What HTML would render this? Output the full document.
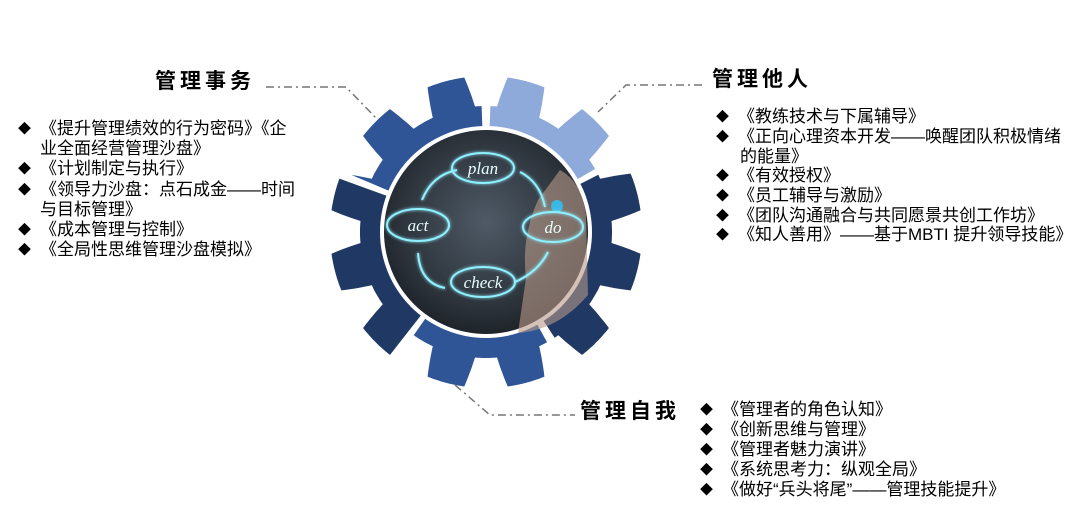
<!DOCTYPE html>
<html><head><meta charset="utf-8">
<style>
body{margin:0;width:1082px;height:511px;background:#fff;position:relative;overflow:hidden;font-family:"Liberation Sans","Noto Sans CJK SC",sans-serif;color:#000}
.t{position:absolute;font-size:21px;font-weight:bold;letter-spacing:4px;line-height:24px;white-space:nowrap}
.l{position:absolute;font-size:17px;line-height:20px;white-space:nowrap}
.d{position:absolute;font-size:13px;line-height:20px}
svg{position:absolute;left:0;top:0}
</style></head><body>
<svg width="1082" height="511" viewBox="0 0 1082 511">
<defs>
<radialGradient id="bg" cx="50%" cy="45%" r="60%"><stop offset="0" stop-color="#4f5a66"/><stop offset="0.7" stop-color="#2c333b"/><stop offset="1" stop-color="#1a1e24"/></radialGradient>
<filter id="gl"><feGaussianBlur stdDeviation="1.5" result="b"/><feMerge><feMergeNode in="b"/><feMergeNode in="SourceGraphic"/></feMerge></filter>
</defs>
<g id="gear"></g>
<circle cx="486" cy="232" r="106" fill="#fff"/>
<circle cx="486" cy="232" r="102" fill="url(#bg)"/>
<path d="M560 170 q22 12 26 45 l2 80 q-30 35 -70 38 l8-55 q-5-40 12-78 z" fill="#b89a88" opacity="0.6"/>
<circle cx="557" cy="206" r="6" fill="#39b8e6"/>
<g fill="none" stroke="#8ff0ff" stroke-width="2" filter="url(#gl)">
<ellipse cx="483" cy="168" rx="31" ry="15"/>
<ellipse cx="553" cy="227" rx="30" ry="15"/>
<ellipse cx="483" cy="282" rx="32" ry="15"/>
<ellipse cx="418" cy="225" rx="31" ry="16"/>
<path d="M422 200 q10-25 35-30"/><path d="M520 172 q20 10 25 35"/><path d="M548 252 q-10 20 -33 30"/><path d="M445 288 q-25 -5 -27 -35"/>
</g>
<g font-family="Liberation Serif,serif" font-style="italic" font-size="17" fill="#e8ffff" text-anchor="middle">
<text x="483" y="174">plan</text><text x="553" y="233">do</text><text x="483" y="288">check</text><text x="418" y="231">act</text>
</g>
<g stroke="#777" stroke-width="1.5" fill="none" stroke-dasharray="8,4,2,4">
<path d="M266 87 H346 L376 118"/>
<path d="M702 85 H626 L598 112"/>
<path d="M455 385 L490 415 H575"/>
</g>
</svg>
<div class="t" style="left:155px;top:70px">管理事务</div>
<div class="t" style="left:712px;top:68px">管理他人</div>
<div class="t" style="left:580px;top:400px">管理自我</div>

<div class="d" style="left:18px;top:119px">◆</div><div class="l" style="left:40px;top:119px">《提升管理绩效的行为密码》《企</div>
<div class="l" style="left:40px;top:139px">业全面经营管理沙盘》</div>
<div class="d" style="left:18px;top:159px">◆</div><div class="l" style="left:40px;top:159px">《计划制定与执行》</div>
<div class="d" style="left:18px;top:180px">◆</div><div class="l" style="left:40px;top:180px">《领导力沙盘：点石成金——时间</div>
<div class="l" style="left:40px;top:200px">与目标管理》</div>
<div class="d" style="left:18px;top:220px">◆</div><div class="l" style="left:40px;top:220px">《成本管理与控制》</div>
<div class="d" style="left:18px;top:240px">◆</div><div class="l" style="left:40px;top:240px">《全局性思维管理沙盘模拟》</div>

<div class="d" style="left:716px;top:107px">◆</div><div class="l" style="left:738px;top:107px">《教练技术与下属辅导》</div>
<div class="d" style="left:716px;top:127px">◆</div><div class="l" style="left:738px;top:127px">《正向心理资本开发——唤醒团队积极情绪</div>
<div class="l" style="left:740px;top:147px">的能量》</div>
<div class="d" style="left:716px;top:166px">◆</div><div class="l" style="left:738px;top:166px">《有效授权》</div>
<div class="d" style="left:716px;top:186px">◆</div><div class="l" style="left:738px;top:186px">《员工辅导与激励》</div>
<div class="d" style="left:716px;top:206px">◆</div><div class="l" style="left:738px;top:206px">《团队沟通融合与共同愿景共创工作坊》</div>
<div class="d" style="left:716px;top:225px">◆</div><div class="l" style="left:738px;top:225px">《知人善用》——基于MBTI 提升领导技能》</div>

<div class="d" style="left:700px;top:400px">◆</div><div class="l" style="left:722px;top:400px">《管理者的角色认知》</div>
<div class="d" style="left:700px;top:420px">◆</div><div class="l" style="left:722px;top:420px">《创新思维与管理》</div>
<div class="d" style="left:700px;top:440px">◆</div><div class="l" style="left:722px;top:440px">《管理者魅力演讲》</div>
<div class="d" style="left:700px;top:460px">◆</div><div class="l" style="left:722px;top:460px">《系统思考力：纵观全局》</div>
<div class="d" style="left:700px;top:480px">◆</div><div class="l" style="left:722px;top:480px">《做好“兵头将尾”——管理技能提升》</div>
<script>
(function(){
var cx=486,cy=232,R0=126,R1=156,g=document.getElementById('gear');
function pt(r,a){a=a*Math.PI/180;return [cx+r*Math.cos(a),cy+r*Math.sin(a)];}
function rad(a){var rel=((a-15)%30+30)%30;var d=Math.min(rel,30-rel);
 if(d<7)return R1; if(d<10)return R1-(d-7)/3*(R1-R0); return R0;}
var S=[[-88,-30,'#8eaadb'],[-27,57,'#203864'],[61,125,'#2f5597'],[128,200,'#203864'],[203,268,'#2f5597']];
S.forEach(function(s){
 var a0=s[0],a1=s[1],pts=[];
 for(var a=a0;a<=a1+0.001;a+=0.5){pts.push(pt(rad(a),a));}
 for(var a=a1;a>=a0;a-=0.5){pts.push(pt(104,a));}
 var p=document.createElementNS('http://www.w3.org/2000/svg','polygon');
 p.setAttribute('points',pts.map(function(q){return q[0].toFixed(1)+','+q[1].toFixed(1)}).join(' '));
 p.setAttribute('fill',s[2]);g.appendChild(p);
});
})();
</script>
</body></html>
